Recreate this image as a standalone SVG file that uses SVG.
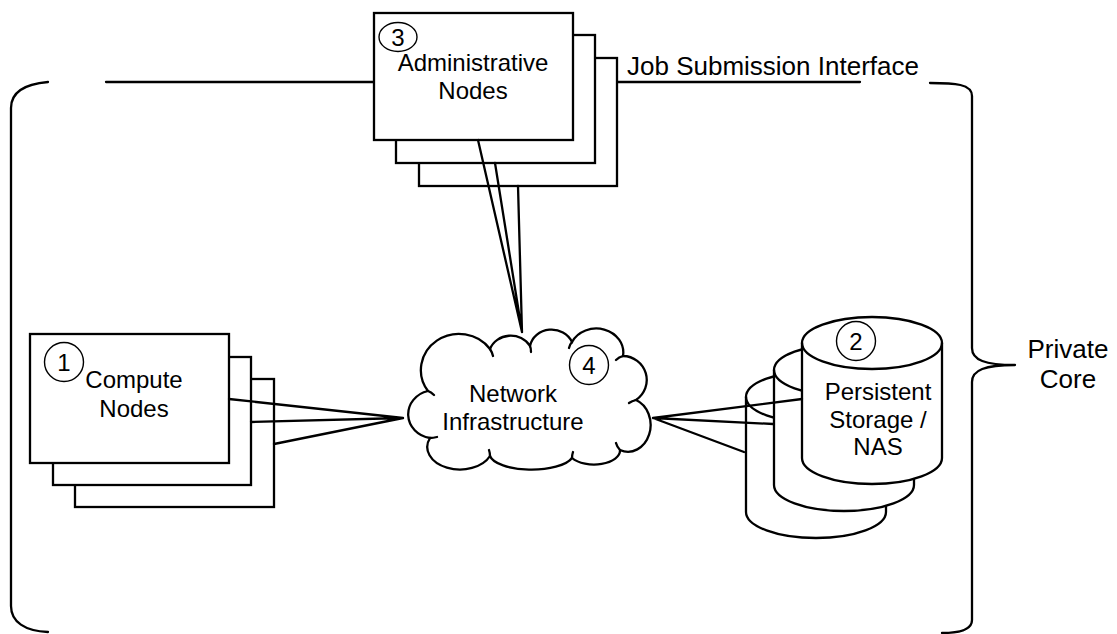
<svg xmlns="http://www.w3.org/2000/svg" width="1117" height="634" viewBox="0 0 1117 634">
  <style>
    .ln { fill: none; stroke: #000; stroke-width: 2.3; stroke-linejoin: round; stroke-linecap: round; }
    .box { fill: #fff; stroke: #000; stroke-width: 2.3; }
    .mark { fill: none; stroke: #000; stroke-width: 1.4; }
    .t { font-family: "Liberation Sans", Arial, sans-serif; font-size: 24px; fill: #000; text-anchor: middle; }
    .tl { font-family: "Liberation Sans", Arial, sans-serif; font-size: 26px; fill: #000; }
  </style>
  <rect width="1117" height="634" fill="#fff"/>

  <!-- private core boundary: left bracket, top interface line, right curly brace -->
  <g id="boundary">
    <path class="ln" d="M48,82 C25,84 11,92 11,108 L11,606 C11,622 25,631 48,632"/>
    <path class="ln" d="M106,82 L374,82 M617,82 L860,82"/>
    <path class="ln" d="M930,83 C955,83 972,84 972,96 L972,348 C972,360 985,365 1015,365 C985,365 972,370 972,382 L972,620 C972,630 960,633 942,633"/>
  </g>

  <!-- administrative nodes (stacked) -->
  <g id="admin-nodes">
    <rect class="box" x="419" y="58" width="198" height="128"/>
    <rect class="box" x="396" y="35" width="199" height="128"/>
    <rect class="box" x="374" y="13" width="199" height="127"/>
    <ellipse class="mark" cx="398" cy="37" rx="19" ry="14.5"/>
    <text class="t" x="398" y="45.5">3</text>
    <text class="t" x="473" y="71">Administrative</text>
    <text class="t" x="473" y="99">Nodes</text>
  </g>

  <!-- compute nodes (stacked) -->
  <g id="compute-nodes">
    <rect class="box" x="75" y="379" width="199" height="128"/>
    <rect class="box" x="53" y="357" width="198" height="128"/>
    <rect class="box" x="30" y="334" width="199" height="129"/>
    <circle class="mark" cx="64" cy="362" r="19.5"/>
    <text class="t" x="64" y="370.5">1</text>
    <text class="t" x="134" y="388">Compute</text>
    <text class="t" x="134" y="417">Nodes</text>
  </g>

  <!-- persistent storage (stacked cylinders) -->
  <g id="storage">
    <path class="box" d="M746,397 A70,26 0 0 1 886,397 L886,512 A70,26 0 0 1 746,512 Z"/>
    <path class="ln" d="M746,397 A70,26 0 0 0 886,397"/>
    <path class="box" d="M774,370 A70,26 0 0 1 914,370 L914,485 A70,26 0 0 1 774,485 Z"/>
    <path class="ln" d="M774,370 A70,26 0 0 0 914,370"/>
    <path class="box" d="M802,343 A70,26 0 0 1 942,343 L942,458 A70,26 0 0 1 802,458 Z"/>
    <path class="ln" d="M802,343 A70,26 0 0 0 942,343"/>
    <circle class="mark" cx="856" cy="341" r="19.5"/>
    <text class="t" x="856" y="349.5">2</text>
    <text class="t" x="878" y="400">Persistent</text>
    <text class="t" x="878" y="428">Storage /</text>
    <text class="t" x="878" y="455">NAS</text>
  </g>

  <!-- network infrastructure cloud: scalloped outline plus the small inner curls at each seam -->
  <g id="network">
    <path class="box" d="M428,391
      A38,36 0 0 1 490,349
      A22,20 0 0 1 530,346
      A22,20 0 0 1 572,342
      A27,24 0 0 1 623,356
      A24,24 0 0 1 636,400
      A22,26 0 0 1 620,450
      A26,14 0 0 1 572,458
      A42,16 0 0 1 490,456
      A32,22 0 0 1 430,438
      A26,24 0 0 1 428,391 Z"/>
    <path class="ln" d="M428,391 q3,1 6,4 M490,349 q2,3 3,7 M530,346 q1,2 1,6 M572,342 q-2,2 -3,6 M623,356 q-4,1 -7,4 M636,400 q-4,1 -7,3 M620,450 q-3,-3 -4,-7 M572,458 q0,-3 1,-6 M490,456 q0,-3 -1,-6 M430,438 q3,0 7,-1"/>
    <circle class="mark" cx="589" cy="365" r="19.5"/>
    <text class="t" x="589" y="373.5">4</text>
    <text class="t" x="513" y="402">Network</text>
    <text class="t" x="513" y="430">Infrastructure</text>
  </g>

  <!-- links between nodes and the network -->
  <g id="connectors">
    <path class="ln" d="M478,140 L522,332 M495,163 L522,332 M518,186 L522,332"/>
    <path class="ln" d="M229,399 L403,418 M251,422 L403,418 M274,444 L403,418"/>
    <path class="ln" d="M653,418 L802,399 M653,418 L773,424 M653,418 L744,452"/>
  </g>

  <!-- outside labels -->
  <g id="labels">
    <text class="tl" x="627" y="75">Job Submission Interface</text>
    <text class="tl" x="1068" y="358" text-anchor="middle">Private</text>
    <text class="tl" x="1068" y="388" text-anchor="middle">Core</text>
  </g>
</svg>
